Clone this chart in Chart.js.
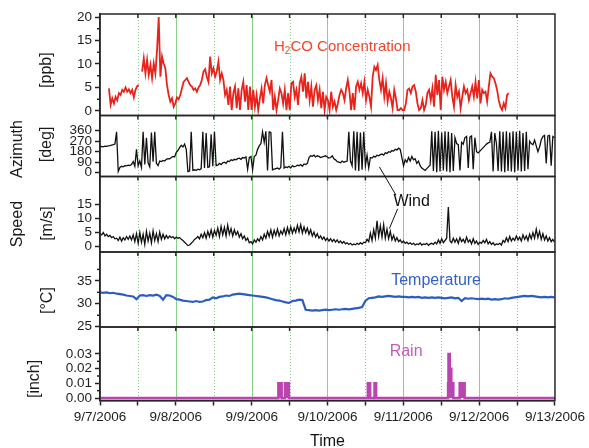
<!DOCTYPE html>
<html>
<head>
<meta charset="utf-8">
<title>H2CO and meteorology, 9/7 - 9/13/2006</title>
<script src="https://cdn.jsdelivr.net/npm/chart.js@4.4.1/dist/chart.umd.min.js"></script>
<style>
  html, body { margin: 0; padding: 0; background: #fff; }
  canvas { display: block; }
</style>
</head>
<body>
<canvas id="stackChart" width="589" height="448"></canvas>
<script>
// shared time axis, in days since 9/7/2006 00:00
const dayLabels = ['9/7/2006', '9/8/2006', '9/9/2006', '9/10/2006', '9/11/2006', '9/12/2006', '9/13/2006'];

// H2CO [ppb], one value every 31.5 min from 02:50 on 9/7 (null = no data)
const h2coStartMin = 170;
const h2coStepMin = 31.5;
const h2coValues = [
	4.8, 1.3, 2.7, 1.6, 3.0, 2.3, 3.8, 3.4, 4.5, 4.1, 5.0, 4.1, 4.6, 3.8, 4.5, 2.9, 4.5, 5.3, 5.5, null,
	8.4, 11.2, 8.0, 10.9, 7.7, 9.8, 7.0, 10.1, 8.0, 13.0, 20.0, 7.3, 11.6, 10.1, 9.1, 5.5, 3.4, 2.0, 2.7, 0.9,
	1.6, 2.9, 2.5, 3.4, 4.8, 6.2, 6.6, 7.0, 6.2, 5.5, 5.2, 4.5, 4.8, 4.1, 5.0, 5.5, 6.6, 8.4, 8.9, 7.3,
	6.2, 11.6, 8.0, 9.1, 7.3, 8.4, 10.5, 6.6, 8.0, 6.6, 3.4, 4.5, 1.3, 5.2, 0.2, 3.8, 5.2, 0.6, 4.8, 0.2,
	4.5, 6.2, 2.0, 5.5, 0.2, 5.2, 0.2, 4.5, 0.9, 3.4, 0.2, 2.7, 4.8, 1.6, 5.5, 7.0, 5.5, 4.1, 6.6, 0.2,
	3.0, 0.2, 2.3, 4.8, 3.8, 1.6, 4.5, 0.2, 3.8, 0.2, 5.9, 6.2, 3.0, 4.5, 1.3, 5.9, 7.3, 4.1, 8.0, 2.7,
	6.2, 2.3, 5.2, 0.9, 4.5, 5.5, 2.3, 4.5, 0.6, 4.1, 0.2, 3.0,
	2.3, 0.2, 4.1, 0.9, 2.0, 0.2, 1.6, 3.4, 4.5, 3.8, 2.3, 4.8, 6.6, 4.1, 0.2, 3.8, 0.2, 5.2, 6.2, 4.5,
	5.9, 3.8, 6.2, 2.3, 4.5, 3.0, 0.9, 7.3, 9.4, 8.7, 9.8, 6.6, 4.5, 7.0, 3.0, 5.9, 2.0, 4.1, 2.7, 0.6,
	4.5, 2.7, 0.2, 0.2, 0.6, 0.2, 0.2, 1.6, 4.5, 4.8, 3.8, 5.2, 5.5, 4.1, 1.6, 0.2, 0.6, 2.3, 0.2, 1.3,
	3.8, 4.5, 2.3, 4.8, 0.9, 7.7, 3.4, 6.6, 0.2, 7.3, 4.5, 6.2, 3.8, 5.2, 6.6, 3.0, 0.9, 5.5, 3.0, 4.1,
	0.6, 3.0, 5.2, 3.8, 4.5, 2.3, 3.8, 5.2, 3.0, 6.2, 2.7, 6.6, 1.6, 4.5, 3.8, 4.1, 2.0, 5.2, 8.0, 7.3,
	7.0, 5.9, 4.5, 2.3, 0.9, 0.2, 1.6, 0.6, 3.4, 3.8
];

// wind direction [deg] and speed [m/s], one value every 31.5 min from midnight 9/7
const windStepMin = 31.5;
const windAzimuth = [
	220, 225, 222, 228, 226, 230, 232, 236, 240, 246, 350, 10, 45, 55, 50, 60, 58, 65, 62, 70,
	95, 55, 200, 60, 100, 45, 350, 70, 300, 85, 50, 345, 95, 350, 80, 60, 100, 95, 105, 100,
	115, 120, 118, 130, 140, 135, 175, 190, 215, 235, 220, 245, 200, 10, 15, 350, 20, 25, 20, 30,
	25, 35, 350, 40, 340, 45, 50, 330, 55, 350, 60, 65, 80, 70, 85, 90, 80, 100, 95, 110,
	105, 115, 110, 120, 125, 115, 130, 125, 135, 30, 130, 140, 25, 140, 150, 200, 230, 250, 350, 260,
	355, 20, 350, 345, 25, 30, 35, 40, 30, 45, 350, 40, 50, 45, 55, 40, 60, 50, 55, 65,
	60, 70, 55, 75, 70, 80, 130, 145, 140, 150, 135, 145, 140, 130, 135, 140, 145, 135, 125, 130,
	145, 120, 110, 95, 90, 85, 100, 90, 95, 100, 350, 100, 60, 355, 20, 350, 15, 345, 25, 350,
	60, 150, 40, 130, 125, 140, 135, 150, 145, 155, 160, 150, 170, 165, 180, 175, 190, 185, 200, 195,
	210, 200, 130, 60, 110, 90, 130, 100, 140, 110, 120, 80, 100, 60, 40, 30, 20, 35, 50, 65,
	355, 15, 350, 5, 360, 10, 345, 20, 355, 10, 350, 5, 340, 15, 300, 250, 240, 20, 260, 245,
	300, 310, 40, 305, 315, 30, 300, 180, 170, 185, 200, 215, 230, 245, 255, 260, 350, 10, 340, 250,
	15, 355, 10, 350, 5, 355, 15, 345, 10, 355, 5, 350, 20, 360, 10, 340, 15, 350, 30, 270,
	250, 240, 280, 230, 180, 220, 280, 310, 320, 80, 315, 320, 60, 310, 300
];
const windSpeed = [
	4.6, 4.2, 5.0, 3.8, 4.4, 3.6, 4.0, 3.2, 3.6, 2.8, 3.0, 2.2, 3.4, 2.0, 3.2, 2.4, 3.6, 2.6, 3.8, 2.4,
	4.2, 1.8, 4.6, 1.2, 5.0, 1.6, 4.4, 0.8, 5.4, 2.0, 4.8, 1.4, 5.6, 2.2, 4.6, 1.8, 5.2, 2.6, 4.4, 2.8,
	4.0, 3.0, 3.8, 3.2, 3.6, 2.8, 3.4, 3.0, 3.2, 2.6, 2.2, 1.6, 1.0, 0.4, 0.6, 1.2, 1.8, 2.6, 3.0, 3.6,
	2.8, 4.4, 3.2, 5.0, 3.0, 5.4, 3.6, 6.0, 3.4, 5.8, 4.0, 6.6, 3.6, 7.2, 4.2, 6.8, 3.8, 7.6, 4.4, 6.4,
	3.8, 6.0, 4.2, 5.4, 3.4, 4.6, 2.8, 3.8, 2.2, 3.0, 1.4, 1.8, 1.0, 2.4, 1.6, 2.8, 2.0, 3.6, 2.4, 4.4,
	3.0, 5.4, 3.6, 6.0, 3.4, 5.8, 4.0, 6.2, 3.8, 5.6, 4.4, 6.4, 4.2, 6.8, 4.6, 7.0, 4.8, 6.6, 5.0, 7.6,
	5.2, 7.8, 4.8, 7.0, 5.0, 6.6, 4.4, 6.0, 3.8, 5.2, 3.4, 4.6, 3.0, 3.8, 2.6, 3.4, 2.2, 3.0, 2.0, 2.8,
	1.8, 2.6, 1.6, 2.4, 1.4, 2.0, 1.2, 1.8, 1.0, 1.4, 0.8, 1.2, 0.6, 1.0, 0.7, 1.2, 0.8, 1.4, 0.9, 1.6,
	1.4, 2.6, 1.8, 4.8, 2.2, 6.0, 3.0, 9.2, 3.6, 7.4, 3.4, 7.8, 3.0, 6.2, 2.8, 5.4, 2.4, 4.0, 2.0, 3.2,
	1.8, 2.4, 1.4, 2.0, 1.2, 1.6, 1.0, 1.4, 0.8, 1.2, 0.6, 1.0, 0.8, 1.3, 0.6, 1.0, 0.8, 1.2, 0.5, 1.0,
	1.2, 0.8, 1.6, 1.0, 2.4, 1.2, 2.8, 1.4, 2.2, 3.0, 14.0, 2.0, 1.4, 3.0, 1.6, 2.8, 1.2, 3.2, 1.8, 2.6,
	1.4, 3.4, 1.6, 2.4, 1.0, 2.8, 1.2, 2.0, 0.8, 1.6, 1.2, 2.2, 1.4, 2.6, 1.0, 1.8, 0.8, 1.4, 0.6, 1.0,
	0.8, 1.2, 0.6, 2.2, 1.6, 3.2, 1.8, 3.6, 2.0, 3.0, 2.2, 3.8, 2.4, 3.4, 2.0, 4.2, 2.6, 3.8, 2.2, 4.4,
	2.8, 5.0, 3.0, 6.2, 3.2, 5.4, 2.6, 4.6, 2.4, 3.8, 2.0, 3.2, 1.8, 2.6, 1.6
];

// air temperature [°C], one value every 63 min from midnight 9/7
const tempStepMin = 63;
const tempValues = [
	32.5, 32.4, 32.5, 32.3, 32.4, 32.2, 32.1, 32.0, 31.8, 31.7, 31.6, 31.0, 31.8, 31.9, 31.7, 31.9, 31.8, 32.0, 31.7, 30.9,
	31.9, 31.8, 31.5, 31.0, 30.9, 30.7, 30.6, 30.5, 30.4, 30.6, 30.4, 30.5, 30.8, 30.9, 31.4, 31.2, 31.5, 31.6, 31.8, 31.7,
	32.0, 32.1, 32.2, 32.1, 32.0, 31.9, 31.8, 31.7, 31.6, 31.5, 31.4, 31.2, 31.0, 30.8, 30.7, 30.5, 30.3, 30.2, 30.6, 30.7,
	30.9, 30.8, 28.7, 28.6, 28.5, 28.6, 28.5, 28.6, 28.7, 28.6, 28.7, 28.8, 28.7, 28.8, 28.9, 28.8, 28.9, 29.0, 29.1, 29.3,
	30.6, 31.2, 31.3, 31.4, 31.6, 31.5, 31.6, 31.7, 31.6, 31.5, 31.6, 31.5, 31.5, 31.4, 31.5, 31.4, 31.5, 31.3, 31.4, 31.3,
	31.4, 31.3, 31.4, 31.3, 31.2, 31.3, 31.4, 31.2, 31.3, 30.6, 31.2, 31.1, 31.2, 31.1, 31.0, 31.1, 31.0, 31.1, 30.9, 31.0,
	30.9, 31.0, 31.2, 31.1, 31.3, 31.4, 31.5, 31.6, 31.7, 31.6, 31.7, 31.6, 31.5, 31.4, 31.5, 31.4, 31.5, 31.4
];

// rain [inch]; each value holds until the next time stamp (minutes from midnight 9/7)
const rainTimeMin = [0, 3387, 3450, 3512, 3588, 5086, 5131, 5213, 5244, 6610, 6618, 6643, 6672, 6710, 6830, 6925, 8640];
const rainValues = [0, 0.01, 0, 0.01, 0, 0.01, 0, 0.01, 0, 0.01, 0.03, 0.02, 0.01, 0, 0.01, 0, 0];

// y tick values per panel
const ppbTicks = [0, 5, 10, 15, 20];
const ppbMinorTicks = [2.5, 7.5, 12.5, 17.5];
const azimuthTicks = [0, 90, 180, 270, 360];
const speedTicks = [0, 5, 10, 15];
const tempTicks = [25, 30, 35];
const tempMinorTicks = [27.5, 32.5, 37.5];
const rainTicks = [0, 0.01, 0.02, 0.03];
const rainMinorTicks = [0.005, 0.015, 0.025];

const FONT = '"Liberation Sans", Arial, Helvetica, sans-serif';
Chart.defaults.font.family = FONT;

const toPoints = (values, startMin, stepMin) =>
	values.map((v, i) => ({ x: (startMin + i * stepMin) / 1440, y: v }));

const tickFont = { size: 13.5 };

// one left axis per panel, all stacked on the same side
const panelAxis = (ticks, min, max, weight, stackWeight, fmt) => ({
	type: 'linear',
	position: 'left',
	stack: 'panels',
	stackWeight: stackWeight,
	weight: weight,
	min: min,
	max: max,
	afterFit: (scale) => { scale.width = 100; },
	afterBuildTicks: (scale) => { scale.ticks = ticks.map(v => ({ value: v })); },
	grid: { drawOnChartArea: false, tickLength: 5, tickWidth: 1.5, tickColor: '#222' },
	border: { color: '#222', width: 1.5 },
	ticks: { autoSkip: false, padding: 3, color: '#1e1e1e', font: tickFont, callback: fmt || (v => String(v)) }
});

const panelIds = ['yH', 'yAz', 'ySp', 'yT', 'yR'];
const minorTicks = { yH: ppbMinorTicks, yT: tempMinorTicks, yR: rainMinorTicks };

// axis titles: text, x position of the text centre, axis value of its vertical centre
const axisTitles = [
	{ axis: 'yH', text: '[ppb]', x: 47, at: 8.7 },
	{ axis: 'yAz', text: 'Azimuth', x: 18, at: 203 },
	{ axis: 'yAz', text: '[deg]', x: 47, at: 242 },
	{ axis: 'ySp', text: 'Speed', x: 18, at: 8.0 },
	{ axis: 'ySp', text: '[m/s]', x: 48, at: 8.2 },
	{ axis: 'yT', text: '[°C]', x: 48, at: 30.7 },
	{ axis: 'yR', text: '[inch]', x: 35, at: 0.013 }
];

const panelDecor = {
	id: 'panelDecor',
	beforeDatasetsDraw(chart) {
		const { ctx, chartArea, scales: { x } } = chart;
		ctx.save();
		ctx.lineWidth = 1;
		ctx.strokeStyle = 'rgba(115, 200, 115, 0.85)';
		for (let d = 0.5; d < 6; d += 0.5) {
			const px = Math.round(x.getPixelForValue(d)) + 0.5;
			ctx.setLineDash(Number.isInteger(d) ? [] : [1, 2]);
			ctx.beginPath();
			ctx.moveTo(px, chartArea.top);
			ctx.lineTo(px, chartArea.bottom);
			ctx.stroke();
		}
		ctx.restore();
	},
	afterDatasetsDraw(chart) {
		const { ctx, chartArea, scales } = chart;
		const x = scales.x;
		ctx.save();

		// panel boxes, half-day ticks along each top edge, minor y ticks
		ctx.strokeStyle = '#262626';
		ctx.lineWidth = 1.5;
		panelIds.forEach(id => {
			const s = scales[id];
			ctx.strokeRect(chartArea.left, s.top, chartArea.right - chartArea.left, s.bottom - s.top);
			for (let d = 0.5; d < 6; d += 0.5) {
				const px = x.getPixelForValue(d);
				ctx.beginPath();
				ctx.moveTo(px, s.top);
				ctx.lineTo(px, s.top + 4);
				ctx.stroke();
			}
			(minorTicks[id] || []).forEach(v => {
				const py = s.getPixelForValue(v);
				ctx.beginPath();
				ctx.moveTo(chartArea.left - 3, py);
				ctx.lineTo(chartArea.left, py);
				ctx.stroke();
			});
		});

		// rotated axis titles
		ctx.fillStyle = '#1a1a1a';
		ctx.font = '16px ' + FONT;
		ctx.textAlign = 'center';
		ctx.textBaseline = 'middle';
		axisTitles.forEach(t => {
			ctx.save();
			ctx.translate(t.x, scales[t.axis].getPixelForValue(t.at));
			ctx.rotate(-Math.PI / 2);
			ctx.fillText(t.text, 0, 0);
			ctx.restore();
		});

		// series labels
		ctx.textAlign = 'left';
		let tx = x.getPixelForValue(2.295);
		const ty = scales.yH.getPixelForValue(13.7);
		ctx.fillStyle = '#f0472c';
		ctx.font = '15px ' + FONT;
		ctx.fillText('H', tx, ty);
		tx += ctx.measureText('H').width;
		ctx.font = '10px ' + FONT;
		ctx.fillText('2', tx, ty + 5);
		tx += ctx.measureText('2').width;
		ctx.font = '15px ' + FONT;
		ctx.fillText('CO Concentration', tx, ty);

		ctx.font = '16px ' + FONT;
		ctx.fillStyle = '#3461c6';
		ctx.fillText('Temperature', x.getPixelForValue(3.84), scales.yT.getPixelForValue(35.15));
		ctx.fillStyle = '#c45cbb';
		ctx.fillText('Rain', x.getPixelForValue(3.82), scales.yR.getPixelForValue(0.0314));

		ctx.fillStyle = '#111';
		ctx.textAlign = 'center';
		ctx.fillText('Wind', x.getPixelForValue(4.11), scales.ySp.getPixelForValue(15.8));
		ctx.strokeStyle = '#111';
		ctx.lineWidth = 1;
		ctx.beginPath();
		ctx.moveTo(x.getPixelForValue(3.904), scales.ySp.getPixelForValue(18.2));
		ctx.lineTo(x.getPixelForValue(3.685), scales.yAz.getPixelForValue(49));
		ctx.moveTo(x.getPixelForValue(3.925), scales.ySp.getPixelForValue(13.4));
		ctx.lineTo(x.getPixelForValue(3.816), scales.ySp.getPixelForValue(6.4));
		ctx.stroke();

		ctx.restore();
	}
};

const lineStyle = { pointRadius: 0, pointHoverRadius: 0, tension: 0, xAxisID: 'x' };

const stackChart = new Chart(document.getElementById('stackChart').getContext('2d'), {
	type: 'line',
	data: {
		datasets: [
			{ ...lineStyle, label: 'H2CO', yAxisID: 'yH', data: toPoints(h2coValues, h2coStartMin, h2coStepMin),
				borderColor: '#e8231c', borderWidth: 1.8, spanGaps: false },
			{ ...lineStyle, label: 'Azimuth', yAxisID: 'yAz', data: toPoints(windAzimuth, 0, windStepMin),
				borderColor: '#111', borderWidth: 1.3 },
			{ ...lineStyle, label: 'Speed', yAxisID: 'ySp', data: toPoints(windSpeed, 0, windStepMin),
				borderColor: '#111', borderWidth: 1.3 },
			{ ...lineStyle, label: 'Temperature', yAxisID: 'yT', data: toPoints(tempValues, 0, tempStepMin),
				borderColor: '#2b5cc4', borderWidth: 2.2 },
			{ ...lineStyle, label: 'Rain', yAxisID: 'yR',
				data: rainTimeMin.map((t, i) => ({ x: t / 1440, y: rainValues[i] })),
				stepped: true, fill: 'origin', borderColor: '#bb44b0', backgroundColor: '#bb44b0', borderWidth: 2.5 }
		]
	},
	options: {
		responsive: false,
		animation: false,
		layout: { padding: { top: 14, right: 32, bottom: 0, left: 0 } },
		plugins: { legend: { display: false }, tooltip: { enabled: false } },
		scales: {
			x: {
				type: 'linear',
				position: 'bottom',
				min: 0,
				max: 6,
				afterFit: (scale) => { scale.height = 47.5; },
				grid: { drawOnChartArea: false, tickLength: 5, tickWidth: 1.5, tickColor: '#222' },
				border: { color: '#222', width: 1.5 },
				ticks: {
					stepSize: 0.5,
					autoSkip: false,
					maxRotation: 0,
					padding: 4,
					color: '#1e1e1e',
					font: tickFont,
					callback: (v) => Number.isInteger(v) ? dayLabels[v] : ''
				},
				title: { display: true, text: 'Time', color: '#111', font: { size: 16, lineHeight: 0.85 }, padding: 0 }
			},
			yH: panelAxis(ppbTicks, -0.96, 20.64, 5, 101.5),
			yAz: panelAxis(azimuthTicks, -32.6, 490, 4, 61),
			ySp: panelAxis(speedTicks, -1.87, 24.83, 3, 75.5),
			yT: panelAxis(tempTicks, 24.93, 41.3, 2, 75),
			yR: panelAxis(rainTicks, -0.0017, 0.0484, 1, 73.5, v => v.toFixed(2))
		}
	},
	plugins: [panelDecor]
});
</script>
</body>
</html>
